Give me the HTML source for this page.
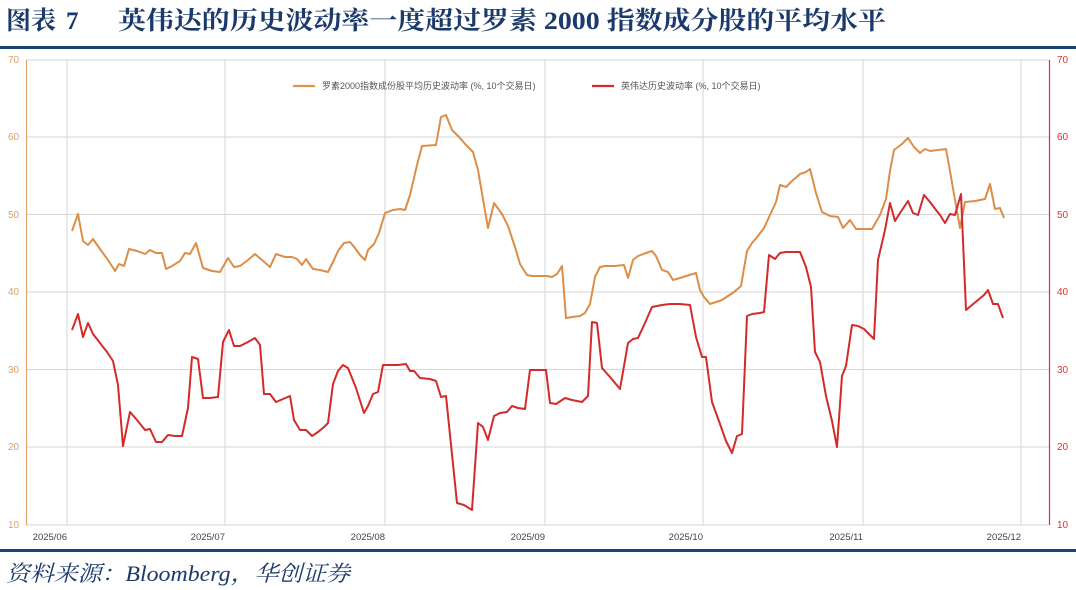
<!DOCTYPE html>
<html><head><meta charset="utf-8"><style>
body{margin:0;width:1076px;height:590px;background:#fff;overflow:hidden;}
svg{position:absolute;left:0;top:0;}
</style></head><body>
<svg width="1076" height="590" viewBox="0 0 1076 590">
<g font-family="'Liberation Serif','Noto Serif CJK SC',serif" font-weight="bold" font-size="25" fill="#1b3a6b">
<text x="6" y="29" textLength="50" lengthAdjust="spacingAndGlyphs">图表</text>
<text x="66" y="29">7</text>
<text x="118" y="29" textLength="768" lengthAdjust="spacingAndGlyphs">英伟达的历史波动率一度超过罗素 2000 指数成分股的平均水平</text>
</g>
<rect x="0" y="46" width="1076" height="3" fill="#1b4176"/>
<g stroke="#d6d6d6" stroke-width="1">
<line x1="26" y1="60" x2="1049" y2="60"/>
<line x1="26" y1="137" x2="1049" y2="137"/>
<line x1="26" y1="214.5" x2="1049" y2="214.5"/>
<line x1="26" y1="292" x2="1049" y2="292"/>
<line x1="26" y1="369.5" x2="1049" y2="369.5"/>
<line x1="26" y1="447" x2="1049" y2="447"/>
<line x1="26" y1="525" x2="1049" y2="525"/>
<line x1="67" y1="60" x2="67" y2="525"/>
<line x1="225" y1="60" x2="225" y2="525"/>
<line x1="385" y1="60" x2="385" y2="525"/>
<line x1="545" y1="60" x2="545" y2="525"/>
<line x1="703" y1="60" x2="703" y2="525"/>
<line x1="863" y1="60" x2="863" y2="525"/>
<line x1="1021" y1="60" x2="1021" y2="525"/>
</g>
<line x1="26.5" y1="60" x2="26.5" y2="525" stroke="#e0a56c" stroke-width="1.2"/>
<line x1="1049.5" y1="60" x2="1049.5" y2="525" stroke="#e0312d" stroke-width="1.2"/>
<g font-family="'Liberation Sans',sans-serif" font-size="10" fill="#d9a36d">
<text x="8" y="63">70</text><text x="8" y="140">60</text><text x="8" y="218">50</text><text x="8" y="295">40</text><text x="8" y="373">30</text><text x="8" y="450">20</text><text x="8" y="528">10</text>
</g>
<g font-family="'Liberation Sans',sans-serif" font-size="10" fill="#e0312d">
<text x="1057" y="63">70</text><text x="1057" y="140">60</text><text x="1057" y="218">50</text><text x="1057" y="295">40</text><text x="1057" y="373">30</text><text x="1057" y="450">20</text><text x="1057" y="528">10</text>
</g>
<g font-family="'Liberation Sans',sans-serif" font-size="9.5" fill="#444" text-anchor="end">
<text x="67" y="540">2025/06</text><text x="225" y="540">2025/07</text><text x="385" y="540">2025/08</text><text x="545" y="540">2025/09</text><text x="703" y="540">2025/10</text><text x="863" y="540">2025/11</text><text x="1021" y="540">2025/12</text>
</g>
<line x1="293" y1="86" x2="315" y2="86" stroke="#e0954f" stroke-width="2.2"/>
<text x="322" y="89" font-family="'Liberation Sans','Noto Sans CJK SC',sans-serif" font-size="9" fill="#555">罗素2000指数成份股平均历史波动率 (%, 10个交易日)</text>
<line x1="592" y1="86" x2="614" y2="86" stroke="#d42a2a" stroke-width="2.2"/>
<text x="621" y="89" font-family="'Liberation Sans','Noto Sans CJK SC',sans-serif" font-size="9" fill="#555">英伟达历史波动率 (%, 10个交易日)</text>
<polyline fill="none" stroke="#dc8e48" stroke-width="2" stroke-linejoin="round" points="72,231 78,214 83,241 88,245 93,239 100,249 108,260 115,271 119,264 124,266 129,249 137,251 145,254 150,250 156,253 162,253 166,269 172,266 180,261 185,253 190,254 196,243 203,268 212,271 220,272 228,258 234,267 240,266 248,260 255,254 262,260 270,267 276,254 285,257 292,257 297,259 302,265 306,259 313,269 320,270 328,272 333,262 338,251 344,243 350,242 355,248 360,255 365,260 368,250 374,244 379,233 385,213 393,210 400,209 405,210 410,195 417,165 422,146 436,145 441,117 446,115 452,130 460,138 466,145 473,152 478,170 484,205 488,228 494,203 502,214 508,226 515,247 520,264 527,275 532,276 540,276 547,276 552,277 557,274 562,266 566,318 572,317 580,316 585,313 590,304 595,277 600,267 605,266 615,266 624,265 628,278 633,260 638,256 646,253 652,251 656,256 662,270 668,272 673,280 680,278 686,276 696,273 700,290 704,297 710,304 716,302 722,300 728,296 734,292 741,286 747,251 752,243 758,236 764,228 770,215 776,202 780,185 786,187 792,181 800,174 806,172 810,169 816,193 822,212 830,216 838,217 843,228 850,220 856,229 864,229 872,229 880,215 886,199 890,171 894,150 902,144 908,138 914,147 920,153 925,149 930,151 938,150 946,149 950,171 955,200 960,228 965,202 975,201 985,199 990,184 995,209 1000,208 1004,218"/>
<polyline fill="none" stroke="#d42a2a" stroke-width="2" stroke-linejoin="round" points="72,330 78,314 83,337 88,323 93,334 100,343 107,352 113,361 118,385 123,446 130,412 137,420 145,430 150,429 156,442 162,442 168,435 175,436 182,436 188,408 192,357 198,359 203,398 210,398 218,397 223,342 229,330 234,346 240,346 248,342 255,338 260,345 264,394 270,394 276,402 283,399 290,396 294,420 300,430 306,430 312,436 318,432 324,427 328,423 333,384 338,371 343,365 348,368 356,388 364,413 368,406 373,394 378,392 383,365 390,365 398,365 406,364 410,371 414,371 420,378 430,379 436,381 441,397 446,396 457,503 464,505 472,510 478,423 483,427 488,440 494,416 500,413 507,412 512,406 518,408 525,409 530,370 538,370 546,370 550,403 556,404 565,398 572,400 582,402 588,396 592,322 597,323 602,368 610,377 620,389 628,343 633,339 638,338 645,323 652,307 657,306 662,305 670,304 680,304 690,305 696,337 702,357 706,357 712,402 720,424 726,441 732,453 737,436 742,434 747,316 752,314 760,313 764,312 769,255 775,259 780,253 786,252 792,252 800,252 806,267 811,287 815,352 820,362 826,396 832,421 837,447 842,376 846,366 852,325 858,326 864,329 870,335 874,339 878,260 885,230 890,203 895,221 900,213 904,207 908,201 913,213 918,215 924,195 930,202 936,210 940,215 945,223 950,214 955,215 961,194 966,310 972,305 978,300 984,295 988,290 993,304 998,304 1003,318"/>
<rect x="0" y="549" width="1076" height="3" fill="#1b4176"/>
<text x="6" y="581" font-family="'Liberation Serif','Noto Serif CJK SC',serif" font-style="italic" font-size="22" fill="#1b3a6b" textLength="344" lengthAdjust="spacingAndGlyphs">资料来源：Bloomberg，华创证券</text>
</svg>
</body></html>
